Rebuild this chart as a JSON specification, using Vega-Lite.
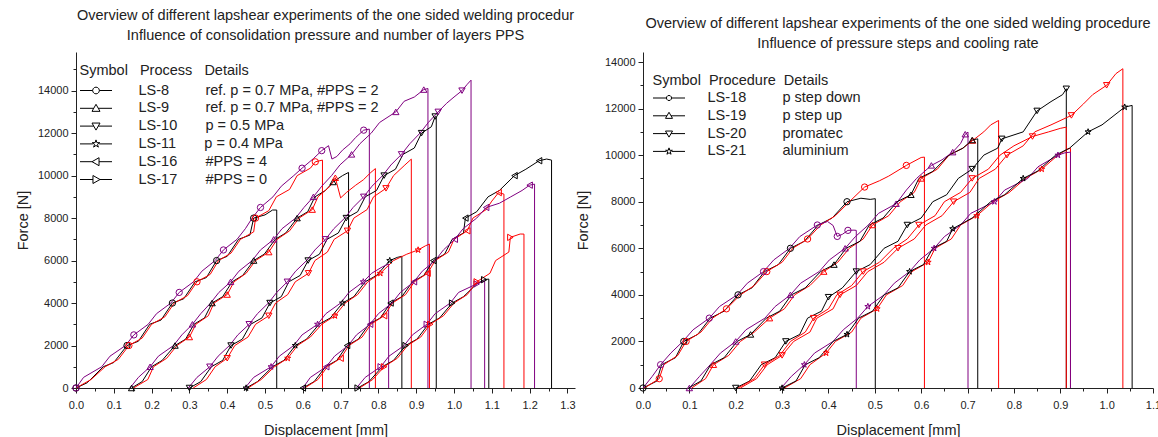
{
"$schema": "https://vega.github.io/schema/vega-lite/v6.json",
"padding": {"left": 15, "top": 8, "right": 0, "bottom": 0},
"autosize": {"type": "pad"},
"bounds": "flush",
"spacing": 68,
"config": {
 "view": {"stroke": null},
 "font": "Liberation Sans",
 "title": {"font": "Liberation Sans", "fontSize": 14.5, "fontWeight": "normal", "color": "#222", "lineHeight": 19.5, "anchor": "middle"},
 "axis": {"labelFont": "Liberation Sans", "labelFontSize": 11, "labelColor": "#222", "titleFont": "Liberation Sans", "titleFontSize": 14.5, "titleFontWeight": "normal", "titleColor": "#222", "domainColor": "#222", "tickColor": "#222", "grid": false, "labelOverlap": false, "labelFlush": false},
 "axisX": {"labelPadding": 6, "titlePadding": 13},
 "axisY": {"labelPadding": 3},
 "legend": {"titleFont": "Liberation Sans", "titleFontSize": 14.5, "titleFontWeight": "normal", "titleColor": "#222", "titleLimit": 500, "labelFont": "Liberation Sans", "labelFontSize": 14.5, "labelColor": "#222", "labelLimit": 500, "symbolSize": 1024, "symbolStrokeColor": "#000", "symbolStrokeWidth": 1, "clipHeight": 16, "rowPadding": 1.8}
},
"resolve": {"scale": {"shape": "independent", "x": "independent", "y": "independent"}, "legend": {"shape": "independent"}},
"datasets": {
"L": [
{"p":"LS-8","n":1,"x":0,"y":0,"m":1},{"p":"LS-8","n":1,"x":0.03,"y":250},{"p":"LS-8","n":1,"x":0.072,"y":1000},{"p":"LS-8","n":1,"x":0.1,"y":1200},{"p":"LS-8","n":1,"x":0.135,"y":2000,"m":1},{"p":"LS-8","n":1,"x":0.165,"y":2200},{"p":"LS-8","n":1,"x":0.195,"y":3000},{"p":"LS-8","n":1,"x":0.225,"y":3200},{"p":"LS-8","n":1,"x":0.255,"y":4000,"m":1},{"p":"LS-8","n":1,"x":0.285,"y":4200},{"p":"LS-8","n":1,"x":0.315,"y":5000},{"p":"LS-8","n":1,"x":0.345,"y":5200},{"p":"LS-8","n":1,"x":0.372,"y":6000,"m":1},{"p":"LS-8","n":1,"x":0.4,"y":6200},{"p":"LS-8","n":1,"x":0.43,"y":7000},{"p":"LS-8","n":1,"x":0.46,"y":7200},{"p":"LS-8","n":1,"x":0.47,"y":8000,"m":1},{"p":"LS-8","n":1,"x":0.5,"y":8150},{"p":"LS-8","n":1,"x":0.52,"y":8380},{"p":"LS-8","n":1,"x":0.531,"y":8380},{"p":"LS-8","n":1,"x":0.531,"y":0},
{"p":"LS-8","n":2,"x":0,"y":0},{"p":"LS-8","n":2,"x":0.04,"y":400},{"p":"LS-8","n":2,"x":0.077,"y":1000},{"p":"LS-8","n":2,"x":0.112,"y":1350},{"p":"LS-8","n":2,"x":0.14,"y":2000,"m":1},{"p":"LS-8","n":2,"x":0.175,"y":2350},{"p":"LS-8","n":2,"x":0.2,"y":3000},{"p":"LS-8","n":2,"x":0.235,"y":3350},{"p":"LS-8","n":2,"x":0.26,"y":4000},{"p":"LS-8","n":2,"x":0.295,"y":4350},{"p":"LS-8","n":2,"x":0.32,"y":5000,"m":1},{"p":"LS-8","n":2,"x":0.355,"y":5350},{"p":"LS-8","n":2,"x":0.377,"y":6000},{"p":"LS-8","n":2,"x":0.41,"y":6350},{"p":"LS-8","n":2,"x":0.435,"y":7000},{"p":"LS-8","n":2,"x":0.47,"y":7350},{"p":"LS-8","n":2,"x":0.475,"y":8000,"m":1},{"p":"LS-8","n":2,"x":0.51,"y":8350},{"p":"LS-8","n":2,"x":0.53,"y":9000},{"p":"LS-8","n":2,"x":0.565,"y":9350},{"p":"LS-8","n":2,"x":0.585,"y":10000},{"p":"LS-8","n":2,"x":0.62,"y":10350},{"p":"LS-8","n":2,"x":0.633,"y":10650,"m":1},{"p":"LS-8","n":2,"x":0.652,"y":10730},{"p":"LS-8","n":2,"x":0.652,"y":0},
{"p":"LS-8","n":3,"x":0,"y":0,"m":1},{"p":"LS-8","n":3,"x":0.02,"y":500},{"p":"LS-8","n":3,"x":0.068,"y":1000},{"p":"LS-8","n":3,"x":0.09,"y":1500},{"p":"LS-8","n":3,"x":0.131,"y":2000},{"p":"LS-8","n":3,"x":0.153,"y":2500,"m":1},{"p":"LS-8","n":3,"x":0.191,"y":3000},{"p":"LS-8","n":3,"x":0.213,"y":3500},{"p":"LS-8","n":3,"x":0.251,"y":4000},{"p":"LS-8","n":3,"x":0.273,"y":4500,"m":1},{"p":"LS-8","n":3,"x":0.311,"y":5000},{"p":"LS-8","n":3,"x":0.333,"y":5500},{"p":"LS-8","n":3,"x":0.368,"y":6000},{"p":"LS-8","n":3,"x":0.39,"y":6500,"m":1},{"p":"LS-8","n":3,"x":0.426,"y":7000},{"p":"LS-8","n":3,"x":0.448,"y":7500},{"p":"LS-8","n":3,"x":0.466,"y":8000},{"p":"LS-8","n":3,"x":0.488,"y":8500,"m":1},{"p":"LS-8","n":3,"x":0.521,"y":9000},{"p":"LS-8","n":3,"x":0.543,"y":9500},{"p":"LS-8","n":3,"x":0.576,"y":10000},{"p":"LS-8","n":3,"x":0.598,"y":10350,"m":1},{"p":"LS-8","n":3,"x":0.628,"y":10800},{"p":"LS-8","n":3,"x":0.65,"y":11175,"m":1},{"p":"LS-8","n":3,"x":0.668,"y":11410},{"p":"LS-8","n":3,"x":0.677,"y":10780},{"p":"LS-8","n":3,"x":0.69,"y":10900},{"p":"LS-8","n":3,"x":0.705,"y":11200},{"p":"LS-8","n":3,"x":0.725,"y":11500},{"p":"LS-8","n":3,"x":0.74,"y":11800},{"p":"LS-8","n":3,"x":0.761,"y":12140,"m":1},{"p":"LS-8","n":3,"x":0.776,"y":12190},{"p":"LS-8","n":3,"x":0.776,"y":0},
{"p":"LS-9","n":1,"x":0.147,"y":0,"m":1},{"p":"LS-9","n":1,"x":0.175,"y":300},{"p":"LS-9","n":1,"x":0.2,"y":1000},{"p":"LS-9","n":1,"x":0.228,"y":1300},{"p":"LS-9","n":1,"x":0.262,"y":2000,"m":1},{"p":"LS-9","n":1,"x":0.29,"y":2300},{"p":"LS-9","n":1,"x":0.312,"y":3000},{"p":"LS-9","n":1,"x":0.34,"y":3300},{"p":"LS-9","n":1,"x":0.36,"y":4000,"m":1},{"p":"LS-9","n":1,"x":0.388,"y":4300},{"p":"LS-9","n":1,"x":0.413,"y":5000},{"p":"LS-9","n":1,"x":0.441,"y":5300},{"p":"LS-9","n":1,"x":0.47,"y":6000,"m":1},{"p":"LS-9","n":1,"x":0.498,"y":6300},{"p":"LS-9","n":1,"x":0.527,"y":7000},{"p":"LS-9","n":1,"x":0.555,"y":7300},{"p":"LS-9","n":1,"x":0.585,"y":8000,"m":1},{"p":"LS-9","n":1,"x":0.613,"y":8300},{"p":"LS-9","n":1,"x":0.632,"y":9000},{"p":"LS-9","n":1,"x":0.66,"y":9300},{"p":"LS-9","n":1,"x":0.68,"y":9700,"m":1},{"p":"LS-9","n":1,"x":0.705,"y":10000},{"p":"LS-9","n":1,"x":0.721,"y":10150},{"p":"LS-9","n":1,"x":0.721,"y":0},
{"p":"LS-9","n":2,"x":0.152,"y":0},{"p":"LS-9","n":2,"x":0.19,"y":400},{"p":"LS-9","n":2,"x":0.205,"y":1000},{"p":"LS-9","n":2,"x":0.24,"y":1400},{"p":"LS-9","n":2,"x":0.267,"y":2000},{"p":"LS-9","n":2,"x":0.3,"y":2400,"m":1},{"p":"LS-9","n":2,"x":0.317,"y":3000},{"p":"LS-9","n":2,"x":0.35,"y":3400},{"p":"LS-9","n":2,"x":0.365,"y":4000},{"p":"LS-9","n":2,"x":0.4,"y":4400,"m":1},{"p":"LS-9","n":2,"x":0.418,"y":5000},{"p":"LS-9","n":2,"x":0.45,"y":5400},{"p":"LS-9","n":2,"x":0.475,"y":6000},{"p":"LS-9","n":2,"x":0.51,"y":6400,"m":1},{"p":"LS-9","n":2,"x":0.532,"y":7000},{"p":"LS-9","n":2,"x":0.565,"y":7400},{"p":"LS-9","n":2,"x":0.59,"y":8000},{"p":"LS-9","n":2,"x":0.625,"y":8400,"m":1},{"p":"LS-9","n":2,"x":0.64,"y":9000},{"p":"LS-9","n":2,"x":0.672,"y":9500},{"p":"LS-9","n":2,"x":0.686,"y":9900,"m":1},{"p":"LS-9","n":2,"x":0.7,"y":8950},{"p":"LS-9","n":2,"x":0.715,"y":9200},{"p":"LS-9","n":2,"x":0.74,"y":9550},{"p":"LS-9","n":2,"x":0.76,"y":9800},{"p":"LS-9","n":2,"x":0.78,"y":10150},{"p":"LS-9","n":2,"x":0.792,"y":10330},{"p":"LS-9","n":2,"x":0.792,"y":0},
{"p":"LS-9","n":3,"x":0.143,"y":0},{"p":"LS-9","n":3,"x":0.165,"y":500},{"p":"LS-9","n":3,"x":0.196,"y":1000,"m":1},{"p":"LS-9","n":3,"x":0.218,"y":1500},{"p":"LS-9","n":3,"x":0.258,"y":2000},{"p":"LS-9","n":3,"x":0.28,"y":2500},{"p":"LS-9","n":3,"x":0.308,"y":3000,"m":1},{"p":"LS-9","n":3,"x":0.33,"y":3500},{"p":"LS-9","n":3,"x":0.356,"y":4000},{"p":"LS-9","n":3,"x":0.378,"y":4500},{"p":"LS-9","n":3,"x":0.409,"y":5000,"m":1},{"p":"LS-9","n":3,"x":0.431,"y":5500},{"p":"LS-9","n":3,"x":0.466,"y":6000},{"p":"LS-9","n":3,"x":0.488,"y":6500},{"p":"LS-9","n":3,"x":0.523,"y":7000,"m":1},{"p":"LS-9","n":3,"x":0.545,"y":7500},{"p":"LS-9","n":3,"x":0.581,"y":8000},{"p":"LS-9","n":3,"x":0.603,"y":8500},{"p":"LS-9","n":3,"x":0.628,"y":9000,"m":1},{"p":"LS-9","n":3,"x":0.65,"y":9500},{"p":"LS-9","n":3,"x":0.676,"y":10000},{"p":"LS-9","n":3,"x":0.698,"y":10500},{"p":"LS-9","n":3,"x":0.729,"y":11000,"m":1},{"p":"LS-9","n":3,"x":0.751,"y":11500},{"p":"LS-9","n":3,"x":0.781,"y":12000},{"p":"LS-9","n":3,"x":0.803,"y":12500},{"p":"LS-9","n":3,"x":0.846,"y":13000,"m":1},{"p":"LS-9","n":3,"x":0.868,"y":13500},{"p":"LS-9","n":3,"x":0.895,"y":13700},{"p":"LS-9","n":3,"x":0.92,"y":14050,"m":1},{"p":"LS-9","n":3,"x":0.931,"y":14100},{"p":"LS-9","n":3,"x":0.931,"y":0},
{"p":"LS-10","n":1,"x":0.3,"y":0,"m":1},{"p":"LS-10","n":1,"x":0.33,"y":300},{"p":"LS-10","n":1,"x":0.358,"y":1000},{"p":"LS-10","n":1,"x":0.388,"y":1300},{"p":"LS-10","n":1,"x":0.41,"y":2000,"m":1},{"p":"LS-10","n":1,"x":0.44,"y":2300},{"p":"LS-10","n":1,"x":0.462,"y":3000},{"p":"LS-10","n":1,"x":0.492,"y":3300},{"p":"LS-10","n":1,"x":0.513,"y":4000,"m":1},{"p":"LS-10","n":1,"x":0.543,"y":4300},{"p":"LS-10","n":1,"x":0.563,"y":5000},{"p":"LS-10","n":1,"x":0.593,"y":5300},{"p":"LS-10","n":1,"x":0.614,"y":6000,"m":1},{"p":"LS-10","n":1,"x":0.644,"y":6300},{"p":"LS-10","n":1,"x":0.664,"y":7000},{"p":"LS-10","n":1,"x":0.694,"y":7300},{"p":"LS-10","n":1,"x":0.715,"y":8000,"m":1},{"p":"LS-10","n":1,"x":0.745,"y":8300},{"p":"LS-10","n":1,"x":0.765,"y":9000},{"p":"LS-10","n":1,"x":0.795,"y":9300},{"p":"LS-10","n":1,"x":0.815,"y":10000,"m":1},{"p":"LS-10","n":1,"x":0.845,"y":10300},{"p":"LS-10","n":1,"x":0.865,"y":11000},{"p":"LS-10","n":1,"x":0.895,"y":11300},{"p":"LS-10","n":1,"x":0.914,"y":12000,"m":1},{"p":"LS-10","n":1,"x":0.94,"y":12300},{"p":"LS-10","n":1,"x":0.95,"y":12780,"m":1},{"p":"LS-10","n":1,"x":0.953,"y":12750},{"p":"LS-10","n":1,"x":0.953,"y":0},
{"p":"LS-10","n":2,"x":0.31,"y":0},{"p":"LS-10","n":2,"x":0.345,"y":400},{"p":"LS-10","n":2,"x":0.368,"y":1000},{"p":"LS-10","n":2,"x":0.4,"y":1400,"m":1},{"p":"LS-10","n":2,"x":0.42,"y":2000},{"p":"LS-10","n":2,"x":0.455,"y":2400},{"p":"LS-10","n":2,"x":0.475,"y":3000},{"p":"LS-10","n":2,"x":0.51,"y":3400,"m":1},{"p":"LS-10","n":2,"x":0.528,"y":4000},{"p":"LS-10","n":2,"x":0.56,"y":4400},{"p":"LS-10","n":2,"x":0.58,"y":5000},{"p":"LS-10","n":2,"x":0.615,"y":5400,"m":1},{"p":"LS-10","n":2,"x":0.632,"y":6000},{"p":"LS-10","n":2,"x":0.665,"y":6400},{"p":"LS-10","n":2,"x":0.683,"y":7000},{"p":"LS-10","n":2,"x":0.718,"y":7400,"m":1},{"p":"LS-10","n":2,"x":0.735,"y":8000},{"p":"LS-10","n":2,"x":0.77,"y":8400},{"p":"LS-10","n":2,"x":0.787,"y":9000},{"p":"LS-10","n":2,"x":0.82,"y":9400,"m":1},{"p":"LS-10","n":2,"x":0.84,"y":10000},{"p":"LS-10","n":2,"x":0.87,"y":10500},{"p":"LS-10","n":2,"x":0.887,"y":10776},{"p":"LS-10","n":2,"x":0.887,"y":0},
{"p":"LS-10","n":3,"x":0.297,"y":0},{"p":"LS-10","n":3,"x":0.32,"y":500},{"p":"LS-10","n":3,"x":0.354,"y":1000,"m":1},{"p":"LS-10","n":3,"x":0.376,"y":1500},{"p":"LS-10","n":3,"x":0.406,"y":2000},{"p":"LS-10","n":3,"x":0.428,"y":2500},{"p":"LS-10","n":3,"x":0.458,"y":3000,"m":1},{"p":"LS-10","n":3,"x":0.48,"y":3500},{"p":"LS-10","n":3,"x":0.509,"y":4000},{"p":"LS-10","n":3,"x":0.531,"y":4500},{"p":"LS-10","n":3,"x":0.559,"y":5000,"m":1},{"p":"LS-10","n":3,"x":0.581,"y":5500},{"p":"LS-10","n":3,"x":0.61,"y":6000},{"p":"LS-10","n":3,"x":0.632,"y":6500},{"p":"LS-10","n":3,"x":0.66,"y":7000,"m":1},{"p":"LS-10","n":3,"x":0.682,"y":7500},{"p":"LS-10","n":3,"x":0.711,"y":8000},{"p":"LS-10","n":3,"x":0.733,"y":8500},{"p":"LS-10","n":3,"x":0.761,"y":9000,"m":1},{"p":"LS-10","n":3,"x":0.783,"y":9500},{"p":"LS-10","n":3,"x":0.811,"y":10000},{"p":"LS-10","n":3,"x":0.833,"y":10500},{"p":"LS-10","n":3,"x":0.861,"y":11000,"m":1},{"p":"LS-10","n":3,"x":0.883,"y":11500},{"p":"LS-10","n":3,"x":0.91,"y":12000},{"p":"LS-10","n":3,"x":0.932,"y":12500},{"p":"LS-10","n":3,"x":0.958,"y":13000,"m":1},{"p":"LS-10","n":3,"x":0.98,"y":13400},{"p":"LS-10","n":3,"x":1.0,"y":13700},{"p":"LS-10","n":3,"x":1.021,"y":14000,"m":1},{"p":"LS-10","n":3,"x":1.035,"y":14300},{"p":"LS-10","n":3,"x":1.045,"y":14494},{"p":"LS-10","n":3,"x":1.045,"y":0},
{"p":"LS-11","n":1,"x":0.45,"y":0,"m":1},{"p":"LS-11","n":1,"x":0.48,"y":300},{"p":"LS-11","n":1,"x":0.52,"y":1000},{"p":"LS-11","n":1,"x":0.55,"y":1300},{"p":"LS-11","n":1,"x":0.58,"y":2000,"m":1},{"p":"LS-11","n":1,"x":0.61,"y":2300},{"p":"LS-11","n":1,"x":0.643,"y":3000},{"p":"LS-11","n":1,"x":0.673,"y":3300},{"p":"LS-11","n":1,"x":0.705,"y":4000,"m":1},{"p":"LS-11","n":1,"x":0.735,"y":4300},{"p":"LS-11","n":1,"x":0.765,"y":5000},{"p":"LS-11","n":1,"x":0.795,"y":5300},{"p":"LS-11","n":1,"x":0.83,"y":6000,"m":1},{"p":"LS-11","n":1,"x":0.85,"y":6150},{"p":"LS-11","n":1,"x":0.862,"y":6200},{"p":"LS-11","n":1,"x":0.862,"y":0},
{"p":"LS-11","n":3,"x":0.447,"y":0},{"p":"LS-11","n":3,"x":0.47,"y":500},{"p":"LS-11","n":3,"x":0.516,"y":1000,"m":1},{"p":"LS-11","n":3,"x":0.538,"y":1500},{"p":"LS-11","n":3,"x":0.576,"y":2000},{"p":"LS-11","n":3,"x":0.598,"y":2500},{"p":"LS-11","n":3,"x":0.639,"y":3000,"m":1},{"p":"LS-11","n":3,"x":0.661,"y":3500},{"p":"LS-11","n":3,"x":0.7,"y":4000},{"p":"LS-11","n":3,"x":0.722,"y":4500},{"p":"LS-11","n":3,"x":0.76,"y":5000,"m":1},{"p":"LS-11","n":3,"x":0.782,"y":5400},{"p":"LS-11","n":3,"x":0.81,"y":5700},{"p":"LS-11","n":3,"x":0.827,"y":5835},{"p":"LS-11","n":3,"x":0.827,"y":0},
{"p":"LS-11","n":2,"x":0.455,"y":0},{"p":"LS-11","n":2,"x":0.49,"y":400},{"p":"LS-11","n":2,"x":0.525,"y":1000},{"p":"LS-11","n":2,"x":0.56,"y":1400,"m":1},{"p":"LS-11","n":2,"x":0.586,"y":2000},{"p":"LS-11","n":2,"x":0.62,"y":2400},{"p":"LS-11","n":2,"x":0.65,"y":3000},{"p":"LS-11","n":2,"x":0.685,"y":3400,"m":1},{"p":"LS-11","n":2,"x":0.712,"y":4000},{"p":"LS-11","n":2,"x":0.745,"y":4400},{"p":"LS-11","n":2,"x":0.772,"y":5000},{"p":"LS-11","n":2,"x":0.805,"y":5400,"m":1},{"p":"LS-11","n":2,"x":0.84,"y":6000},{"p":"LS-11","n":2,"x":0.875,"y":6300},{"p":"LS-11","n":2,"x":0.905,"y":6500,"m":1},{"p":"LS-11","n":2,"x":0.925,"y":6700},{"p":"LS-11","n":2,"x":0.935,"y":6776},{"p":"LS-11","n":2,"x":0.935,"y":0},
{"p":"LS-16","n":1,"x":0.6,"y":0,"m":1},{"p":"LS-16","n":1,"x":0.63,"y":300},{"p":"LS-16","n":1,"x":0.66,"y":1000},{"p":"LS-16","n":1,"x":0.69,"y":1300},{"p":"LS-16","n":1,"x":0.717,"y":2000,"m":1},{"p":"LS-16","n":1,"x":0.747,"y":2300},{"p":"LS-16","n":1,"x":0.775,"y":3000},{"p":"LS-16","n":1,"x":0.805,"y":3300},{"p":"LS-16","n":1,"x":0.832,"y":4000,"m":1},{"p":"LS-16","n":1,"x":0.862,"y":4300},{"p":"LS-16","n":1,"x":0.89,"y":5000},{"p":"LS-16","n":1,"x":0.92,"y":5300},{"p":"LS-16","n":1,"x":0.945,"y":6000,"m":1},{"p":"LS-16","n":1,"x":0.975,"y":6300},{"p":"LS-16","n":1,"x":0.995,"y":7000},{"p":"LS-16","n":1,"x":1.025,"y":7300},{"p":"LS-16","n":1,"x":1.03,"y":8000,"m":1},{"p":"LS-16","n":1,"x":1.06,"y":8300},{"p":"LS-16","n":1,"x":1.09,"y":9000},{"p":"LS-16","n":1,"x":1.12,"y":9300},{"p":"LS-16","n":1,"x":1.16,"y":10000,"m":1},{"p":"LS-16","n":1,"x":1.19,"y":10300},{"p":"LS-16","n":1,"x":1.225,"y":10700,"m":1},{"p":"LS-16","n":1,"x":1.245,"y":10780},{"p":"LS-16","n":1,"x":1.258,"y":10730},{"p":"LS-16","n":1,"x":1.258,"y":0},
{"p":"LS-16","n":2,"x":0.605,"y":0},{"p":"LS-16","n":2,"x":0.64,"y":400},{"p":"LS-16","n":2,"x":0.665,"y":1000},{"p":"LS-16","n":2,"x":0.7,"y":1400,"m":1},{"p":"LS-16","n":2,"x":0.722,"y":2000},{"p":"LS-16","n":2,"x":0.757,"y":2400},{"p":"LS-16","n":2,"x":0.78,"y":3000},{"p":"LS-16","n":2,"x":0.815,"y":3400,"m":1},{"p":"LS-16","n":2,"x":0.837,"y":4000},{"p":"LS-16","n":2,"x":0.872,"y":4400},{"p":"LS-16","n":2,"x":0.895,"y":5000},{"p":"LS-16","n":2,"x":0.93,"y":5400,"m":1},{"p":"LS-16","n":2,"x":0.95,"y":6000},{"p":"LS-16","n":2,"x":0.985,"y":6400},{"p":"LS-16","n":2,"x":1.0,"y":7000},{"p":"LS-16","n":2,"x":1.035,"y":7400,"m":1},{"p":"LS-16","n":2,"x":1.05,"y":8000},{"p":"LS-16","n":2,"x":1.085,"y":8400},{"p":"LS-16","n":2,"x":1.1,"y":8800},{"p":"LS-16","n":2,"x":1.118,"y":9200,"m":1},{"p":"LS-16","n":2,"x":1.132,"y":9129},{"p":"LS-16","n":2,"x":1.132,"y":0},
{"p":"LS-16","n":3,"x":0.6,"y":0},{"p":"LS-16","n":3,"x":0.62,"y":500},{"p":"LS-16","n":3,"x":0.662,"y":1000,"m":1},{"p":"LS-16","n":3,"x":0.684,"y":1500},{"p":"LS-16","n":3,"x":0.72,"y":2000},{"p":"LS-16","n":3,"x":0.742,"y":2500},{"p":"LS-16","n":3,"x":0.778,"y":3000,"m":1},{"p":"LS-16","n":3,"x":0.8,"y":3500},{"p":"LS-16","n":3,"x":0.836,"y":4000},{"p":"LS-16","n":3,"x":0.858,"y":4500},{"p":"LS-16","n":3,"x":0.894,"y":5000,"m":1},{"p":"LS-16","n":3,"x":0.916,"y":5500},{"p":"LS-16","n":3,"x":0.95,"y":6000},{"p":"LS-16","n":3,"x":0.972,"y":6500},{"p":"LS-16","n":3,"x":1.002,"y":7000,"m":1},{"p":"LS-16","n":3,"x":1.024,"y":7500},{"p":"LS-16","n":3,"x":1.06,"y":8000},{"p":"LS-16","n":3,"x":1.085,"y":8500,"m":1},{"p":"LS-16","n":3,"x":1.12,"y":8700},{"p":"LS-16","n":3,"x":1.15,"y":9000},{"p":"LS-16","n":3,"x":1.18,"y":9300},{"p":"LS-16","n":3,"x":1.2,"y":9550,"m":1},{"p":"LS-16","n":3,"x":1.213,"y":9600},{"p":"LS-16","n":3,"x":1.213,"y":0},
{"p":"LS-17","n":1,"x":0.745,"y":0,"m":1},{"p":"LS-17","n":1,"x":0.775,"y":300},{"p":"LS-17","n":1,"x":0.81,"y":1000},{"p":"LS-17","n":1,"x":0.84,"y":1300},{"p":"LS-17","n":1,"x":0.872,"y":2000,"m":1},{"p":"LS-17","n":1,"x":0.902,"y":2300},{"p":"LS-17","n":1,"x":0.932,"y":3000},{"p":"LS-17","n":1,"x":0.962,"y":3300},{"p":"LS-17","n":1,"x":0.995,"y":4000,"m":1},{"p":"LS-17","n":1,"x":1.025,"y":4300},{"p":"LS-17","n":1,"x":1.06,"y":4900},{"p":"LS-17","n":1,"x":1.08,"y":5100,"m":1},{"p":"LS-17","n":1,"x":1.092,"y":5129},{"p":"LS-17","n":1,"x":1.092,"y":0},
{"p":"LS-17","n":3,"x":0.742,"y":0},{"p":"LS-17","n":3,"x":0.765,"y":500},{"p":"LS-17","n":3,"x":0.806,"y":1000,"m":1},{"p":"LS-17","n":3,"x":0.828,"y":1500},{"p":"LS-17","n":3,"x":0.868,"y":2000},{"p":"LS-17","n":3,"x":0.89,"y":2500},{"p":"LS-17","n":3,"x":0.928,"y":3000,"m":1},{"p":"LS-17","n":3,"x":0.95,"y":3500},{"p":"LS-17","n":3,"x":0.99,"y":4000},{"p":"LS-17","n":3,"x":1.012,"y":4500},{"p":"LS-17","n":3,"x":1.06,"y":4900,"m":1},{"p":"LS-17","n":3,"x":1.081,"y":5049},{"p":"LS-17","n":3,"x":1.081,"y":0},
{"p":"LS-17","n":2,"x":0.75,"y":0},{"p":"LS-17","n":2,"x":0.785,"y":400},{"p":"LS-17","n":2,"x":0.815,"y":1000,"m":1},{"p":"LS-17","n":2,"x":0.85,"y":1400},{"p":"LS-17","n":2,"x":0.877,"y":2000},{"p":"LS-17","n":2,"x":0.912,"y":2400},{"p":"LS-17","n":2,"x":0.937,"y":3000,"m":1},{"p":"LS-17","n":2,"x":0.972,"y":3400},{"p":"LS-17","n":2,"x":1.0,"y":4000},{"p":"LS-17","n":2,"x":1.035,"y":4400},{"p":"LS-17","n":2,"x":1.06,"y":5000,"m":1},{"p":"LS-17","n":2,"x":1.095,"y":5400},{"p":"LS-17","n":2,"x":1.11,"y":6000},{"p":"LS-17","n":2,"x":1.145,"y":6400},{"p":"LS-17","n":2,"x":1.149,"y":7092,"m":1},{"p":"LS-17","n":2,"x":1.175,"y":7250},{"p":"LS-17","n":2,"x":1.185,"y":7247},{"p":"LS-17","n":2,"x":1.185,"y":0}
],
"R": [
{"p":"LS-18","n":1,"x":0,"y":0,"m":1},{"p":"LS-18","n":1,"x":0.03,"y":300},{"p":"LS-18","n":1,"x":0.04,"y":1000},{"p":"LS-18","n":1,"x":0.07,"y":1300},{"p":"LS-18","n":1,"x":0.088,"y":2000,"m":1},{"p":"LS-18","n":1,"x":0.118,"y":2300},{"p":"LS-18","n":1,"x":0.145,"y":3000},{"p":"LS-18","n":1,"x":0.175,"y":3300},{"p":"LS-18","n":1,"x":0.205,"y":4000,"m":1},{"p":"LS-18","n":1,"x":0.235,"y":4300},{"p":"LS-18","n":1,"x":0.262,"y":5000},{"p":"LS-18","n":1,"x":0.292,"y":5300},{"p":"LS-18","n":1,"x":0.318,"y":6000,"m":1},{"p":"LS-18","n":1,"x":0.348,"y":6300},{"p":"LS-18","n":1,"x":0.378,"y":7000},{"p":"LS-18","n":1,"x":0.408,"y":7300},{"p":"LS-18","n":1,"x":0.44,"y":8000,"m":1},{"p":"LS-18","n":1,"x":0.47,"y":8150},{"p":"LS-18","n":1,"x":0.49,"y":8100},{"p":"LS-18","n":1,"x":0.501,"y":8130},{"p":"LS-18","n":1,"x":0.501,"y":0},
{"p":"LS-18","n":2,"x":0.003,"y":0},{"p":"LS-18","n":2,"x":0.035,"y":400,"m":1},{"p":"LS-18","n":2,"x":0.045,"y":1000},{"p":"LS-18","n":2,"x":0.075,"y":1400},{"p":"LS-18","n":2,"x":0.093,"y":2000,"m":1},{"p":"LS-18","n":2,"x":0.125,"y":2400},{"p":"LS-18","n":2,"x":0.15,"y":3000},{"p":"LS-18","n":2,"x":0.18,"y":3400,"m":1},{"p":"LS-18","n":2,"x":0.21,"y":4000},{"p":"LS-18","n":2,"x":0.24,"y":4400},{"p":"LS-18","n":2,"x":0.267,"y":5000,"m":1},{"p":"LS-18","n":2,"x":0.3,"y":5400},{"p":"LS-18","n":2,"x":0.323,"y":6000},{"p":"LS-18","n":2,"x":0.355,"y":6400,"m":1},{"p":"LS-18","n":2,"x":0.383,"y":7000},{"p":"LS-18","n":2,"x":0.415,"y":7400},{"p":"LS-18","n":2,"x":0.445,"y":8000},{"p":"LS-18","n":2,"x":0.478,"y":8630,"m":1},{"p":"LS-18","n":2,"x":0.51,"y":8900},{"p":"LS-18","n":2,"x":0.53,"y":9100},{"p":"LS-18","n":2,"x":0.568,"y":9560,"m":1},{"p":"LS-18","n":2,"x":0.6,"y":9900},{"p":"LS-18","n":2,"x":0.607,"y":9916},{"p":"LS-18","n":2,"x":0.607,"y":0},
{"p":"LS-18","n":3,"x":0,"y":0},{"p":"LS-18","n":3,"x":0.02,"y":500},{"p":"LS-18","n":3,"x":0.038,"y":1000,"m":1},{"p":"LS-18","n":3,"x":0.06,"y":1500},{"p":"LS-18","n":3,"x":0.086,"y":2000},{"p":"LS-18","n":3,"x":0.108,"y":2500},{"p":"LS-18","n":3,"x":0.143,"y":3000,"m":1},{"p":"LS-18","n":3,"x":0.165,"y":3500},{"p":"LS-18","n":3,"x":0.203,"y":4000},{"p":"LS-18","n":3,"x":0.225,"y":4500},{"p":"LS-18","n":3,"x":0.26,"y":5000,"m":1},{"p":"LS-18","n":3,"x":0.282,"y":5500},{"p":"LS-18","n":3,"x":0.316,"y":6000},{"p":"LS-18","n":3,"x":0.338,"y":6500},{"p":"LS-18","n":3,"x":0.376,"y":7000,"m":1},{"p":"LS-18","n":3,"x":0.398,"y":7150},{"p":"LS-18","n":3,"x":0.41,"y":6980},{"p":"LS-18","n":3,"x":0.419,"y":6510,"m":1},{"p":"LS-18","n":3,"x":0.43,"y":6600},{"p":"LS-18","n":3,"x":0.442,"y":6770,"m":1},{"p":"LS-18","n":3,"x":0.455,"y":6780},{"p":"LS-18","n":3,"x":0.46,"y":6770},{"p":"LS-18","n":3,"x":0.46,"y":0},
{"p":"LS-19","n":3,"x":0.1,"y":0,"m":1},{"p":"LS-19","n":3,"x":0.122,"y":500},{"p":"LS-19","n":3,"x":0.145,"y":1000},{"p":"LS-19","n":3,"x":0.167,"y":1500},{"p":"LS-19","n":3,"x":0.2,"y":2000,"m":1},{"p":"LS-19","n":3,"x":0.222,"y":2500},{"p":"LS-19","n":3,"x":0.263,"y":3000},{"p":"LS-19","n":3,"x":0.285,"y":3500},{"p":"LS-19","n":3,"x":0.318,"y":4000,"m":1},{"p":"LS-19","n":3,"x":0.34,"y":4500},{"p":"LS-19","n":3,"x":0.38,"y":5000},{"p":"LS-19","n":3,"x":0.402,"y":5500},{"p":"LS-19","n":3,"x":0.436,"y":6000,"m":1},{"p":"LS-19","n":3,"x":0.458,"y":6500},{"p":"LS-19","n":3,"x":0.486,"y":7000},{"p":"LS-19","n":3,"x":0.508,"y":7500},{"p":"LS-19","n":3,"x":0.546,"y":7915,"m":1},{"p":"LS-19","n":3,"x":0.568,"y":8500},{"p":"LS-19","n":3,"x":0.59,"y":9000},{"p":"LS-19","n":3,"x":0.622,"y":9560,"m":1},{"p":"LS-19","n":3,"x":0.645,"y":9800},{"p":"LS-19","n":3,"x":0.668,"y":10130,"m":1},{"p":"LS-19","n":3,"x":0.685,"y":10500},{"p":"LS-19","n":3,"x":0.695,"y":10900,"m":1},{"p":"LS-19","n":3,"x":0.701,"y":10990},{"p":"LS-19","n":3,"x":0.701,"y":0},
{"p":"LS-19","n":2,"x":0.105,"y":0},{"p":"LS-19","n":2,"x":0.135,"y":400},{"p":"LS-19","n":2,"x":0.152,"y":1000,"m":1},{"p":"LS-19","n":2,"x":0.185,"y":1400},{"p":"LS-19","n":2,"x":0.21,"y":2000},{"p":"LS-19","n":2,"x":0.24,"y":2400},{"p":"LS-19","n":2,"x":0.273,"y":3000,"m":1},{"p":"LS-19","n":2,"x":0.305,"y":3400},{"p":"LS-19","n":2,"x":0.327,"y":4000},{"p":"LS-19","n":2,"x":0.36,"y":4400},{"p":"LS-19","n":2,"x":0.39,"y":5000,"m":1},{"p":"LS-19","n":2,"x":0.42,"y":5400},{"p":"LS-19","n":2,"x":0.445,"y":6000},{"p":"LS-19","n":2,"x":0.475,"y":6400},{"p":"LS-19","n":2,"x":0.495,"y":7000,"m":1},{"p":"LS-19","n":2,"x":0.53,"y":7400},{"p":"LS-19","n":2,"x":0.555,"y":8000},{"p":"LS-19","n":2,"x":0.585,"y":8400},{"p":"LS-19","n":2,"x":0.6,"y":9000,"m":1},{"p":"LS-19","n":2,"x":0.635,"y":9400},{"p":"LS-19","n":2,"x":0.66,"y":10000},{"p":"LS-19","n":2,"x":0.69,"y":10300},{"p":"LS-19","n":2,"x":0.711,"y":10630,"m":1},{"p":"LS-19","n":2,"x":0.735,"y":11000},{"p":"LS-19","n":2,"x":0.75,"y":11300},{"p":"LS-19","n":2,"x":0.767,"y":11490},{"p":"LS-19","n":2,"x":0.767,"y":0},
{"p":"LS-19","n":1,"x":0.098,"y":0},{"p":"LS-19","n":1,"x":0.125,"y":300},{"p":"LS-19","n":1,"x":0.146,"y":1000},{"p":"LS-19","n":1,"x":0.175,"y":1300},{"p":"LS-19","n":1,"x":0.203,"y":2000},{"p":"LS-19","n":1,"x":0.232,"y":2300,"m":1},{"p":"LS-19","n":1,"x":0.266,"y":3000},{"p":"LS-19","n":1,"x":0.295,"y":3300},{"p":"LS-19","n":1,"x":0.32,"y":4000},{"p":"LS-19","n":1,"x":0.35,"y":4300},{"p":"LS-19","n":1,"x":0.383,"y":5000},{"p":"LS-19","n":1,"x":0.412,"y":5300,"m":1},{"p":"LS-19","n":1,"x":0.438,"y":6000},{"p":"LS-19","n":1,"x":0.468,"y":6300},{"p":"LS-19","n":1,"x":0.488,"y":7000},{"p":"LS-19","n":1,"x":0.518,"y":7300},{"p":"LS-19","n":1,"x":0.548,"y":8000},{"p":"LS-19","n":1,"x":0.578,"y":8300,"m":1},{"p":"LS-19","n":1,"x":0.595,"y":9000},{"p":"LS-19","n":1,"x":0.625,"y":9300},{"p":"LS-19","n":1,"x":0.66,"y":10000},{"p":"LS-19","n":1,"x":0.69,"y":10300},{"p":"LS-19","n":1,"x":0.71,"y":10650,"m":1},{"p":"LS-19","n":1,"x":0.722,"y":10700},{"p":"LS-19","n":1,"x":0.722,"y":0},
{"p":"LS-20","n":1,"x":0.2,"y":0,"m":1},{"p":"LS-20","n":1,"x":0.23,"y":300},{"p":"LS-20","n":1,"x":0.255,"y":1000},{"p":"LS-20","n":1,"x":0.285,"y":1300},{"p":"LS-20","n":1,"x":0.308,"y":2000,"m":1},{"p":"LS-20","n":1,"x":0.338,"y":2300},{"p":"LS-20","n":1,"x":0.355,"y":3000},{"p":"LS-20","n":1,"x":0.385,"y":3300},{"p":"LS-20","n":1,"x":0.4,"y":3900,"m":1},{"p":"LS-20","n":1,"x":0.43,"y":4300},{"p":"LS-20","n":1,"x":0.46,"y":5000,"m":1},{"p":"LS-20","n":1,"x":0.49,"y":5300},{"p":"LS-20","n":1,"x":0.52,"y":6000},{"p":"LS-20","n":1,"x":0.55,"y":6300},{"p":"LS-20","n":1,"x":0.57,"y":7000,"m":1},{"p":"LS-20","n":1,"x":0.6,"y":7300},{"p":"LS-20","n":1,"x":0.625,"y":8000},{"p":"LS-20","n":1,"x":0.655,"y":8300},{"p":"LS-20","n":1,"x":0.68,"y":9000},{"p":"LS-20","n":1,"x":0.71,"y":9400,"m":1},{"p":"LS-20","n":1,"x":0.735,"y":10000},{"p":"LS-20","n":1,"x":0.765,"y":10300},{"p":"LS-20","n":1,"x":0.774,"y":10700,"m":1},{"p":"LS-20","n":1,"x":0.82,"y":11000},{"p":"LS-20","n":1,"x":0.85,"y":11900,"m":1},{"p":"LS-20","n":1,"x":0.88,"y":12300},{"p":"LS-20","n":1,"x":0.905,"y":12600},{"p":"LS-20","n":1,"x":0.913,"y":12850,"m":1},{"p":"LS-20","n":1,"x":0.913,"y":0},
{"p":"LS-20","n":2,"x":0.21,"y":0},{"p":"LS-20","n":2,"x":0.245,"y":400},{"p":"LS-20","n":2,"x":0.268,"y":1000},{"p":"LS-20","n":2,"x":0.3,"y":1400,"m":1},{"p":"LS-20","n":2,"x":0.325,"y":2000},{"p":"LS-20","n":2,"x":0.36,"y":2400},{"p":"LS-20","n":2,"x":0.375,"y":3000},{"p":"LS-20","n":2,"x":0.41,"y":3400},{"p":"LS-20","n":2,"x":0.425,"y":4000,"m":1},{"p":"LS-20","n":2,"x":0.46,"y":4400},{"p":"LS-20","n":2,"x":0.485,"y":5000},{"p":"LS-20","n":2,"x":0.52,"y":5400},{"p":"LS-20","n":2,"x":0.55,"y":6000,"m":1},{"p":"LS-20","n":2,"x":0.585,"y":6400},{"p":"LS-20","n":2,"x":0.61,"y":7000},{"p":"LS-20","n":2,"x":0.645,"y":7400},{"p":"LS-20","n":2,"x":0.67,"y":8000,"m":1},{"p":"LS-20","n":2,"x":0.705,"y":8400},{"p":"LS-20","n":2,"x":0.725,"y":9000},{"p":"LS-20","n":2,"x":0.76,"y":9400},{"p":"LS-20","n":2,"x":0.785,"y":10000,"m":1},{"p":"LS-20","n":2,"x":0.82,"y":10400},{"p":"LS-20","n":2,"x":0.845,"y":11000},{"p":"LS-20","n":2,"x":0.88,"y":11300},{"p":"LS-20","n":2,"x":0.924,"y":11707,"m":1},{"p":"LS-20","n":2,"x":0.95,"y":12200},{"p":"LS-20","n":2,"x":0.97,"y":12600},{"p":"LS-20","n":2,"x":1.0,"y":13000,"m":1},{"p":"LS-20","n":2,"x":1.02,"y":13500},{"p":"LS-20","n":2,"x":1.035,"y":13712},{"p":"LS-20","n":2,"x":1.035,"y":0},
{"p":"LS-20","n":4,"x":0.205,"y":0},{"p":"LS-20","n":4,"x":0.24,"y":400},{"p":"LS-20","n":4,"x":0.262,"y":1000,"m":1},{"p":"LS-20","n":4,"x":0.295,"y":1400},{"p":"LS-20","n":4,"x":0.318,"y":2000},{"p":"LS-20","n":4,"x":0.35,"y":2400},{"p":"LS-20","n":4,"x":0.368,"y":3000,"m":1},{"p":"LS-20","n":4,"x":0.4,"y":3400},{"p":"LS-20","n":4,"x":0.418,"y":4000},{"p":"LS-20","n":4,"x":0.45,"y":4400},{"p":"LS-20","n":4,"x":0.475,"y":5000,"m":1},{"p":"LS-20","n":4,"x":0.51,"y":5400},{"p":"LS-20","n":4,"x":0.54,"y":6000},{"p":"LS-20","n":4,"x":0.57,"y":6400},{"p":"LS-20","n":4,"x":0.595,"y":7000,"m":1},{"p":"LS-20","n":4,"x":0.63,"y":7400},{"p":"LS-20","n":4,"x":0.65,"y":8000},{"p":"LS-20","n":4,"x":0.685,"y":8400},{"p":"LS-20","n":4,"x":0.71,"y":9000,"m":1},{"p":"LS-20","n":4,"x":0.745,"y":9400},{"p":"LS-20","n":4,"x":0.77,"y":10000},{"p":"LS-20","n":4,"x":0.8,"y":10400},{"p":"LS-20","n":4,"x":0.84,"y":10800,"m":1},{"p":"LS-20","n":4,"x":0.875,"y":11000},{"p":"LS-20","n":4,"x":0.9,"y":11150},{"p":"LS-20","n":4,"x":0.913,"y":11204},{"p":"LS-20","n":4,"x":0.913,"y":0},
{"p":"LS-21","n":2,"x":0.305,"y":0},{"p":"LS-21","n":2,"x":0.34,"y":400},{"p":"LS-21","n":2,"x":0.36,"y":1000},{"p":"LS-21","n":2,"x":0.395,"y":1500,"m":1},{"p":"LS-21","n":2,"x":0.415,"y":2000},{"p":"LS-21","n":2,"x":0.45,"y":2400},{"p":"LS-21","n":2,"x":0.47,"y":3000},{"p":"LS-21","n":2,"x":0.505,"y":3400,"m":1},{"p":"LS-21","n":2,"x":0.525,"y":4000},{"p":"LS-21","n":2,"x":0.56,"y":4400},{"p":"LS-21","n":2,"x":0.58,"y":5000},{"p":"LS-21","n":2,"x":0.615,"y":5400,"m":1},{"p":"LS-21","n":2,"x":0.63,"y":6000},{"p":"LS-21","n":2,"x":0.665,"y":6400},{"p":"LS-21","n":2,"x":0.685,"y":7000},{"p":"LS-21","n":2,"x":0.72,"y":7400,"m":1},{"p":"LS-21","n":2,"x":0.755,"y":8000},{"p":"LS-21","n":2,"x":0.79,"y":8400},{"p":"LS-21","n":2,"x":0.825,"y":9000},{"p":"LS-21","n":2,"x":0.86,"y":9400,"m":1},{"p":"LS-21","n":2,"x":0.895,"y":10000},{"p":"LS-21","n":2,"x":0.915,"y":10250},{"p":"LS-21","n":2,"x":0.922,"y":10300},{"p":"LS-21","n":2,"x":0.922,"y":0},
{"p":"LS-21","n":3,"x":0.298,"y":0},{"p":"LS-21","n":3,"x":0.32,"y":500},{"p":"LS-21","n":3,"x":0.348,"y":1000,"m":1},{"p":"LS-21","n":3,"x":0.37,"y":1500},{"p":"LS-21","n":3,"x":0.41,"y":2000},{"p":"LS-21","n":3,"x":0.432,"y":2500},{"p":"LS-21","n":3,"x":0.463,"y":3000},{"p":"LS-21","n":3,"x":0.485,"y":3500,"m":1},{"p":"LS-21","n":3,"x":0.52,"y":4000},{"p":"LS-21","n":3,"x":0.542,"y":4500},{"p":"LS-21","n":3,"x":0.575,"y":5000},{"p":"LS-21","n":3,"x":0.597,"y":5500},{"p":"LS-21","n":3,"x":0.628,"y":6000,"m":1},{"p":"LS-21","n":3,"x":0.65,"y":6500},{"p":"LS-21","n":3,"x":0.685,"y":7000},{"p":"LS-21","n":3,"x":0.707,"y":7500},{"p":"LS-21","n":3,"x":0.758,"y":8000,"m":1},{"p":"LS-21","n":3,"x":0.78,"y":8500},{"p":"LS-21","n":3,"x":0.83,"y":9000},{"p":"LS-21","n":3,"x":0.852,"y":9500},{"p":"LS-21","n":3,"x":0.895,"y":10000,"m":1},{"p":"LS-21","n":3,"x":0.91,"y":10100},{"p":"LS-21","n":3,"x":0.922,"y":10130},{"p":"LS-21","n":3,"x":0.922,"y":0},
{"p":"LS-21","n":1,"x":0.3,"y":0,"m":1},{"p":"LS-21","n":1,"x":0.33,"y":300},{"p":"LS-21","n":1,"x":0.35,"y":1000},{"p":"LS-21","n":1,"x":0.38,"y":1300},{"p":"LS-21","n":1,"x":0.41,"y":2000},{"p":"LS-21","n":1,"x":0.44,"y":2300,"m":1},{"p":"LS-21","n":1,"x":0.465,"y":3000},{"p":"LS-21","n":1,"x":0.495,"y":3300},{"p":"LS-21","n":1,"x":0.52,"y":4000},{"p":"LS-21","n":1,"x":0.55,"y":4300},{"p":"LS-21","n":1,"x":0.575,"y":5000,"m":1},{"p":"LS-21","n":1,"x":0.605,"y":5300},{"p":"LS-21","n":1,"x":0.625,"y":6000},{"p":"LS-21","n":1,"x":0.655,"y":6300},{"p":"LS-21","n":1,"x":0.668,"y":6840,"m":1},{"p":"LS-21","n":1,"x":0.71,"y":7300},{"p":"LS-21","n":1,"x":0.75,"y":8000},{"p":"LS-21","n":1,"x":0.78,"y":8300},{"p":"LS-21","n":1,"x":0.82,"y":9000,"m":1},{"p":"LS-21","n":1,"x":0.85,"y":9300},{"p":"LS-21","n":1,"x":0.89,"y":10000},{"p":"LS-21","n":1,"x":0.92,"y":10300},{"p":"LS-21","n":1,"x":0.96,"y":11000,"m":1},{"p":"LS-21","n":1,"x":0.99,"y":11300},{"p":"LS-21","n":1,"x":1.035,"y":12000},{"p":"LS-21","n":1,"x":1.039,"y":12063,"m":1},{"p":"LS-21","n":1,"x":1.055,"y":12136},{"p":"LS-21","n":1,"x":1.055,"y":0}
]
},
"hconcat": [
{
 "width": 499, "height": 336,
 "title": {"text": ["Overview of different lapshear experiments of the one sided welding procedur", "Influence of consolidation pressure and number of layers PPS"], "offset": 9},
 "data": {"name": "L"},
 "encoding": {
  "x": {"field": "x", "type": "quantitative", "title": "Displacement [mm]", "scale": {"domain": [0, 1.32], "nice": false, "zero": false},
   "axis": {"values": [0,0.05,0.1,0.15,0.2,0.25,0.3,0.35,0.4,0.45,0.5,0.55,0.6,0.65,0.7,0.75,0.8,0.85,0.9,0.95,1,1.05,1.1,1.15,1.2,1.25,1.3],
    "labelExpr": "round(datum.value*20) % 2 == 0 ? format(datum.value, '.1f') : ''",
    "tickSize": {"condition": {"test": "round(datum.value*20) % 2 == 1", "value": 3}, "value": 5}}},
  "y": {"field": "y", "type": "quantitative", "title": "Force [N]", "scale": {"domain": [0, 15820], "nice": false},
   "axis": {"values": [0,1000,2000,3000,4000,5000,6000,7000,8000,9000,10000,11000,12000,13000,14000,15000],
    "labelExpr": "datum.value % 2000 == 0 ? format(datum.value, 'd') : ''",
    "tickSize": {"condition": {"test": "datum.value % 2000 != 0", "value": 3}, "value": 5}, "titlePadding": 7}},
  "color": {"field": "n", "type": "nominal", "scale": {"domain": [1, 2, 3, 4], "range": ["#000000", "#ff0000", "#800080", "#ff0000"]}, "legend": null}
 },
 "layer": [
  {"mark": {"type": "line", "strokeWidth": 1}, "encoding": {"detail": {"field": "p"}, "order": {"value": null}}},
  {"transform": [{"filter": "datum.m == 1"}],
   "mark": {"type": "point", "filled": false, "size": 40, "strokeWidth": 1, "opacity": 1},
   "encoding": {"shape": {"field": "p", "type": "nominal",
     "scale": {"domain": ["LS-8", "LS-9", "LS-10", "LS-11", "LS-16", "LS-17"], "range": ["circle", "triangle-up", "triangle-down", "M0,-1L0.225,-0.309L0.951,-0.309L0.363,0.118L0.588,0.809L0,0.382L-0.588,0.809L-0.363,0.118L-0.951,-0.309L-0.225,-0.309Z", "triangle-left", "triangle-right"]},
     "legend": null}}},
  {"transform": [{"filter": "datum.m == 7"}],
   "mark": {"type": "point", "filled": false, "strokeWidth": 1, "opacity": 1},
   "encoding": {"color": {"value": "#000000"}, "shape": {"field": "p", "type": "nominal",
     "scale": {"domain": ["LS-8", "LS-9", "LS-10", "LS-11", "LS-16", "LS-17"], "range": [
      "M-1,0L-0.21,0M0.21,0L1,0M0.21,0L0.182,0.105L0.105,0.182L0,0.21L-0.105,0.182L-0.182,0.105L-0.21,0L-0.182,-0.105L-0.105,-0.182L0,-0.21L0.105,-0.182L0.182,-0.105Z",
      "M-1,0L-0.142,0M0.142,0L1,0M0,-0.25L0.25,0.19L-0.25,0.19Z",
      "M-1,0L-0.142,0M0.142,0L1,0M-0.25,-0.19L0.25,-0.19L0,0.25Z",
      "M-1,0L-0.2,0M0.2,0L1,0M0,-0.25L0.056,-0.077L0.238,-0.077L0.091,0.03L0.147,0.202L0,0.096L-0.147,0.202L-0.091,0.03L-0.238,-0.077L-0.056,-0.077Z",
      "M-1,0L-0.25,0M0.19,0L1,0M-0.25,0L0.19,-0.25L0.19,0.25Z",
      "M-1,0L-0.19,0M0.25,0L1,0M0.25,0L-0.19,-0.25L-0.19,0.25Z"]},
     "legend": {"orient": "none", "legendX": 3.5, "legendY": 12,
      "title": "Symbol\u00a0\u00a0\u00a0Process\u00a0\u00a0\u00a0Details", "titlePadding": 4, "labelOffset": 26,
      "labelExpr": "datum.label == 'LS-8' ? 'LS-8\u00a0\u00a0\u00a0\u00a0\u00a0\u00a0\u00a0\u00a0\u00a0ref. p = 0.7 MPa, #PPS = 2' : datum.label == 'LS-9' ? 'LS-9\u00a0\u00a0\u00a0\u00a0\u00a0\u00a0\u00a0\u00a0\u00a0ref. p = 0.7 MPa, #PPS = 2' : datum.label == 'LS-10' ? 'LS-10\u00a0\u00a0\u00a0\u00a0\u00a0\u00a0\u00a0p = 0.5 MPa' : datum.label == 'LS-11' ? 'LS-11\u00a0\u00a0\u00a0\u00a0\u00a0\u00a0\u00a0p = 0.4 MPa' : datum.label == 'LS-16' ? 'LS-16\u00a0\u00a0\u00a0\u00a0\u00a0\u00a0\u00a0#PPS = 4' : 'LS-17\u00a0\u00a0\u00a0\u00a0\u00a0\u00a0\u00a0#PPS = 0'"}}}}
 ],
 "resolve": {"scale": {"shape": "independent"}}
},
{
 "width": 510, "height": 336,
 "title": {"text": ["Overview of different lapshear experiments of the one sided welding procedure", "Influence of pressure steps and cooling rate"], "offset": 1},
 "data": {"name": "R"},
 "encoding": {
  "x": {"field": "x", "type": "quantitative", "title": "Displacement [mm]", "scale": {"domain": [0, 1.1], "nice": false, "zero": false},
   "axis": {"values": [0,0.05,0.1,0.15,0.2,0.25,0.3,0.35,0.4,0.45,0.5,0.55,0.6,0.65,0.7,0.75,0.8,0.85,0.9,0.95,1,1.05,1.1],
    "labelExpr": "round(datum.value*20) % 2 == 0 ? format(datum.value, '.1f') : ''",
    "tickSize": {"condition": {"test": "round(datum.value*20) % 2 == 1", "value": 3}, "value": 5}}},
  "y": {"field": "y", "type": "quantitative", "title": "Force [N]", "scale": {"domain": [0, 14430], "nice": false},
   "axis": {"values": [0,1000,2000,3000,4000,5000,6000,7000,8000,9000,10000,11000,12000,13000,14000],
    "labelExpr": "datum.value % 2000 == 0 ? format(datum.value, 'd') : ''",
    "tickSize": {"condition": {"test": "datum.value % 2000 != 0", "value": 3}, "value": 5}, "titlePadding": 14}},
  "color": {"field": "n", "type": "nominal", "scale": {"domain": [1, 2, 3, 4], "range": ["#000000", "#ff0000", "#800080", "#ff0000"]}, "legend": null}
 },
 "layer": [
  {"mark": {"type": "line", "strokeWidth": 1}, "encoding": {"detail": {"field": "p"}, "order": {"value": null}}},
  {"transform": [{"filter": "datum.m == 1"}],
   "mark": {"type": "point", "filled": false, "size": 40, "strokeWidth": 1, "opacity": 1},
   "encoding": {"shape": {"field": "p", "type": "nominal",
     "scale": {"domain": ["LS-18", "LS-19", "LS-20", "LS-21"], "range": ["circle", "triangle-up", "triangle-down", "M0,-1L0.225,-0.309L0.951,-0.309L0.363,0.118L0.588,0.809L0,0.382L-0.588,0.809L-0.363,0.118L-0.951,-0.309L-0.225,-0.309Z"]},
     "legend": null}}},
  {"transform": [{"filter": "datum.m == 7"}],
   "mark": {"type": "point", "filled": false, "strokeWidth": 1, "opacity": 1},
   "encoding": {"color": {"value": "#000000"}, "shape": {"field": "p", "type": "nominal",
     "scale": {"domain": ["LS-18", "LS-19", "LS-20", "LS-21"], "range": [
      "M-1,0L-0.16,0M0.16,0L1,0M0.16,0L0.139,0.08L0.08,0.139L0,0.16L-0.08,0.139L-0.139,0.08L-0.16,0L-0.139,-0.08L-0.08,-0.139L0,-0.16L0.08,-0.139L0.139,-0.08Z",
      "M-1,0L-0.127,0M0.127,0L1,0M0,-0.22L0.22,0.16L-0.22,0.16Z",
      "M-1,0L-0.127,0M0.127,0L1,0M-0.22,-0.16L0.22,-0.16L0,0.22Z",
      "M-1,0L-0.18,0M0.18,0L1,0M0,-0.22L0.049,-0.068L0.209,-0.068L0.08,0.026L0.129,0.178L0,0.084L-0.129,0.178L-0.08,0.026L-0.209,-0.068L-0.049,-0.068Z"]},
     "legend": {"orient": "none", "legendX": 9.5, "legendY": 21.5,
      "title": "Symbol\u00a0\u00a0Procedure\u00a0\u00a0Details", "titlePadding": 2, "labelOffset": 22,
      "labelExpr": "datum.label == 'LS-18' ? 'LS-18\u00a0\u00a0\u00a0\u00a0\u00a0\u00a0\u00a0\u00a0\u00a0p step down' : datum.label == 'LS-19' ? 'LS-19\u00a0\u00a0\u00a0\u00a0\u00a0\u00a0\u00a0\u00a0\u00a0p step up' : datum.label == 'LS-20' ? 'LS-20\u00a0\u00a0\u00a0\u00a0\u00a0\u00a0\u00a0\u00a0\u00a0promatec' : 'LS-21\u00a0\u00a0\u00a0\u00a0\u00a0\u00a0\u00a0\u00a0\u00a0aluminium'"}}}}
 ],
 "resolve": {"scale": {"shape": "independent"}}
}
]
}
